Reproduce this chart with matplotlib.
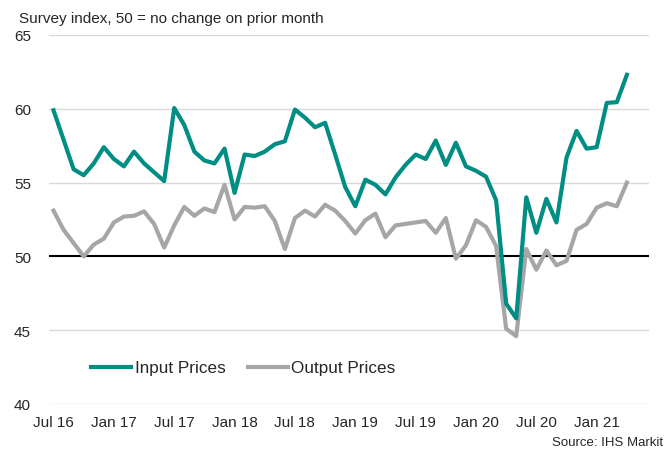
import matplotlib
matplotlib.use("Agg")
import matplotlib.pyplot as plt

months = ["Jul 16", "Aug 16", "Sep 16", "Oct 16", "Nov 16", "Dec 16",
          "Jan 17", "Feb 17", "Mar 17", "Apr 17", "May 17", "Jun 17",
          "Jul 17", "Aug 17", "Sep 17", "Oct 17", "Nov 17", "Dec 17",
          "Jan 18", "Feb 18", "Mar 18", "Apr 18", "May 18", "Jun 18",
          "Jul 18", "Aug 18", "Sep 18", "Oct 18", "Nov 18", "Dec 18",
          "Jan 19", "Feb 19", "Mar 19", "Apr 19", "May 19", "Jun 19",
          "Jul 19", "Aug 19", "Sep 19", "Oct 19", "Nov 19", "Dec 19",
          "Jan 20", "Feb 20", "Mar 20", "Apr 20", "May 20", "Jun 20",
          "Jul 20", "Aug 20", "Sep 20", "Oct 20", "Nov 20", "Dec 20",
          "Jan 21", "Feb 21", "Mar 21", "Apr 21"]

input_prices = [59.9, 57.9, 55.9, 55.5, 56.3, 57.4, 56.6, 56.1, 57.1, 56.3,
                55.7, 55.1, 60.05, 58.9, 57.1, 56.5, 56.3, 57.3, 54.3, 56.9,
                56.8, 57.1, 57.6, 57.8, 59.95, 59.4, 58.75, 59.05, 56.9, 54.7,
                53.4, 55.2, 54.85, 54.2, 55.35, 56.2, 56.9, 56.6, 57.85, 56.2,
                57.7, 56.1, 55.8, 55.4, 53.8, 46.8, 45.8, 54.0, 51.6, 53.9,
                52.3, 56.7, 58.5, 57.3, 57.4, 60.4, 60.45, 62.3]

output_prices = [53.1, 51.8, 50.9, 50.0, 50.8, 51.2, 52.3, 52.7, 52.75, 53.05,
                 52.2, 50.6, 52.1, 53.35, 52.75, 53.25, 53.0, 54.85, 52.5, 53.35,
                 53.3, 53.4, 52.4, 50.5, 52.6, 53.1, 52.7, 53.5, 53.1, 52.4,
                 51.55, 52.45, 52.9, 51.3, 52.1, 52.2, 52.3, 52.4, 51.6, 52.6,
                 49.85, 50.75, 52.45, 52.0, 50.7, 45.1, 44.6, 50.5, 49.1, 50.4,
                 49.4, 49.7, 51.8, 52.2, 53.3, 53.6, 53.4, 55.0]

tick_labels = ["Jul 16", "Jan 17", "Jul 17", "Jan 18", "Jul 18",
               "Jan 19", "Jul 19", "Jan 20", "Jul 20", "Jan 21"]
y_ticks = [40, 45, 50, 55, 60, 65]

plt.rcParams['font.family'] = ['Liberation Sans', 'DejaVu Sans']

W, H = 668, 456
fig = plt.figure(figsize=(W / 100, H / 100), dpi=100)
ax = fig.add_axes([49 / W, 1 - 405 / H, (649 - 49) / W, (405 - 36) / H])

x = list(range(len(months)))
teal = '#008E84'
grey = '#A6A6A6'

for yv in y_ticks:
    if yv != 50:
        ax.axhline(yv, color='#D9D9D9', lw=1.0, zorder=1)
ax.axhline(50, color='black', lw=1.5, zorder=2)

ax.plot(x, input_prices, color=teal, lw=3.0, label='Input Prices', zorder=4,
        solid_joinstyle='round')
ax.plot(x, output_prices, color=grey, lw=3.0, label='Output Prices', zorder=3,
        solid_joinstyle='round')

ax.set_ylim(40, 65)
ax.set_xlim(-0.45, 59.2)
ax.set_yticks(y_ticks)
ax.set_yticklabels([str(v) for v in y_ticks])
ax.set_xticks([months.index(m) for m in tick_labels])
ax.set_xticklabels(tick_labels)
ax.tick_params(axis='both', length=0, labelsize=11, labelcolor='#262626')
ax.tick_params(axis='y', pad=13)
ax.tick_params(axis='x', pad=8)
for s in ax.spines.values():
    s.set_visible(False)

fig.text(19 / W, 1 - 19 / H, 'Survey index, 50 = no change on prior month',
         fontsize=11, color='#262626', ha='left', va='center')
fig.text(663 / W, 1 - 443 / H, 'Source: IHS Markit', fontsize=9.5,
         color='#262626', ha='right', va='center')

leg = fig.legend(loc='center left', bbox_to_anchor=(91 / W, 1 - 369 / H),
                 ncol=2, frameon=False, fontsize=12.3, handlelength=2.35,
                 handletextpad=0.2, columnspacing=1.3, borderpad=0,
                 borderaxespad=0)
for t in leg.get_texts():
    t.set_color('#262626')

fig.savefig('out.png', dpi=100)
